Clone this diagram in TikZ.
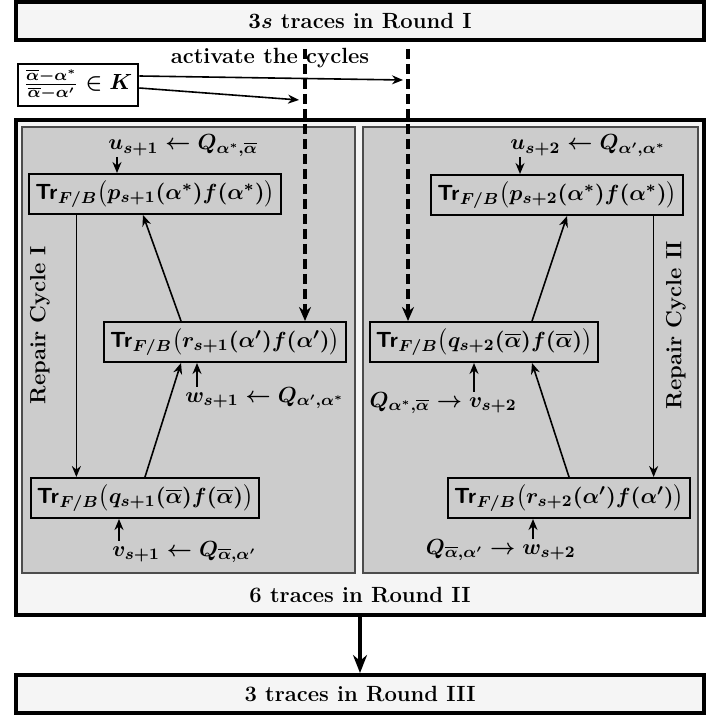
\documentclass[tikz,border=0pt]{standalone}
\usepackage{amsmath}
\usepackage{amssymb}
\usetikzlibrary{arrows.meta, positioning, calc}
\tikzset{
    roundsdiagram/.style={>=Stealth, font=\fontsize{11}{13}\selectfont\bfseries\boldmath, x=0.5pt, y=-0.5pt},
    roundbox/.style={draw, line width=2pt, fill=black!4, minimum width=344pt, minimum height=19pt},
    panel/.style={draw=black!70, fill=black!20, line width=0.6pt},
    trbox/.style={draw, line width=1pt, inner sep=3pt, minimum height=20pt},
    query/.style={inner sep=0pt},
    link/.style={->, line width=0.8pt, >={Stealth[length=5.5pt,width=4.5pt]}},
    % the thick dashed lines that start the two cycles
    activate/.style={->, line width=2pt, dash pattern=on 5pt off 2.5pt, >={Stealth[length=7pt,width=6pt]}},
    bigstep/.style={->, line width=2pt, >={Stealth[length=9pt,width=7pt]}},
}
\newcommand{\trFB}{\mathsf{Tr}_{F/B}}

\begin{document}
\begin{tikzpicture}[roundsdiagram]
    \useasboundingbox (0,0) rectangle (726,715);

    \node[roundbox] (round1) at (360,21.5) {$3s$ traces in Round I};
    \node[roundbox, minimum height=247.5pt] (round2) at (360,367.5) {};
    \node[roundbox] (round3) at (360,694) {3 traces in Round III};
    \node (round2lab) at (360,595) {6 traces in Round II};

    \node[panel, minimum width=166.5pt, minimum height=223pt] (cycle1) at (188.5,350) {};
    \node[panel, minimum width=167.5pt, minimum height=223pt] (cycle2) at (530.5,350) {};
    \node[rotate=90] (rc1) at (40,325) {Repair Cycle I};
    \node[rotate=90] (rc2) at (676,325) {Repair Cycle II};

    % first cycle
    \node[trbox] (p1) at (155,194) {$\trFB\big(p_{s+1}(\alpha^*)f(\alpha^*)\big)$};
    \node[trbox] (r1) at (225,342) {$\trFB\big(r_{s+1}(\alpha')f(\alpha')\big)$};
    \node[trbox] (q1) at (145,498) {$\trFB\big(q_{s+1}(\overline{\alpha})f(\overline{\alpha})\big)$};
    \node[query, anchor=base west] (u1) at (108,150) {$u_{s+1}\leftarrow Q_{\alpha^*,\overline{\alpha}}$};
    \node[query, anchor=base west] (w1) at (185,402) {$w_{s+1}\leftarrow Q_{\alpha',\alpha^*}$};
    \node[query, anchor=base west] (v1) at (112,556) {$v_{s+1}\leftarrow Q_{\overline{\alpha},\alpha'}$};

    % second cycle
    \node[trbox] (p2) at (557,195) {$\trFB\big(p_{s+2}(\alpha^*)f(\alpha^*)\big)$};
    \node[trbox] (q2) at (484,342) {$\trFB\big(q_{s+2}(\overline{\alpha})f(\overline{\alpha})\big)$};
    \node[trbox] (r2) at (569,498) {$\trFB\big(r_{s+2}(\alpha')f(\alpha')\big)$};
    \node[query, anchor=base west] (u2) at (510,150) {$u_{s+2}\leftarrow Q_{\alpha',\alpha^*}$};
    \node[query, anchor=base east] (v2) at (517,407) {$Q_{\alpha^*,\overline{\alpha}}\rightarrow v_{s+2}$};
    \node[query, anchor=base east] (w2) at (576,554) {$Q_{\overline{\alpha},\alpha'}\rightarrow w_{s+2}$};

    % activation
    \node (act) at (270,58) {activate the cycles};
    \node[draw, line width=1pt, inner sep=3pt] (ratio) at (78,85)
        {$\frac{\overline{\alpha}-\alpha^*}{\overline{\alpha}-\alpha'}\in K$};
    \coordinate (d1) at (305,49);
    \coordinate (d2) at (408,49);
    \coordinate (hit1) at (299,100);
    \coordinate (hit2) at (403,80);

    \draw[activate] (d1) -- (d1 |- r1.north);
    \draw[activate] (d2) -- (d2 |- q2.north);
    \draw[link] ([yshift=4.5pt]ratio.east) -- (hit2);
    \draw[link] ([yshift=-1.5pt]ratio.east) -- (hit1);

    \draw[link] ([xshift=4.5pt]u1.south west) -- ([xshift=4.5pt]u1.south west |- p1.north);
    \draw[link] ([xshift=24pt]p1.south west) -- ([xshift=24pt]p1.south west |- q1.north);
    \draw[link] (q1.north) -- ([xshift=-22pt]r1.south);
    \draw[link] ([xshift=-22pt]r1.north) -- ([xshift=-6pt]p1.south);
    \draw[link] ([xshift=6pt]w1.north west) -- ([xshift=6pt]w1.north west |- r1.south);
    \draw[link] ([xshift=3.5pt]v1.north west) -- ([xshift=3.5pt]v1.north west |- q1.south);

    \draw[link] ([xshift=5pt]u2.south west) -- ([xshift=5pt]u2.south west |- p2.north);
    \draw[link] ([xshift=-15pt]p2.south east) -- ([xshift=-15pt]p2.south east |- r2.north);
    \draw[link] (r2.north) -- ([xshift=24pt]q2.south);
    \draw[link] ([xshift=24pt]q2.north) -- ([xshift=5pt]p2.south);
    \draw[link] ([xshift=-21.5pt]v2.north east) -- ([xshift=-21.5pt]v2.north east |- q2.south);
    \draw[link] ([xshift=-21.5pt]w2.north east) -- ([xshift=-21.5pt]w2.north east |- r2.south);

    \draw[bigstep] (round2) -- (round3);
\end{tikzpicture}
\end{document}
